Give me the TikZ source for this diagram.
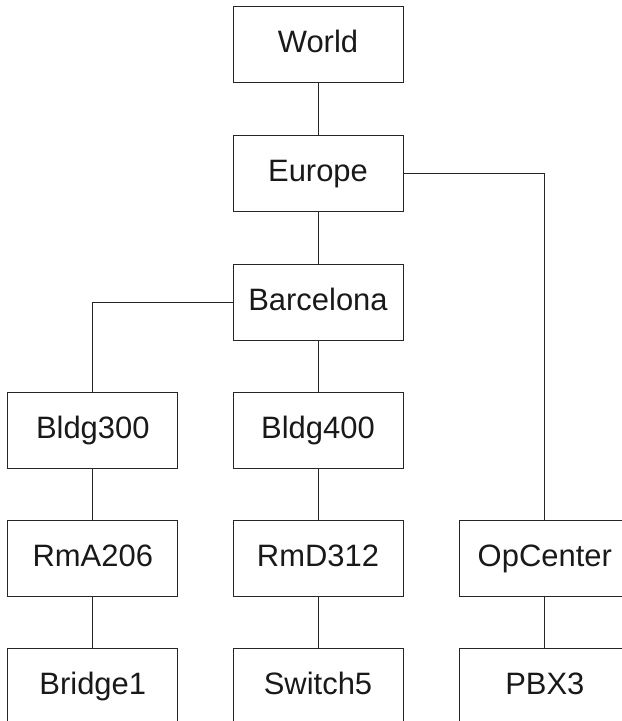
\documentclass[tikz,border=0pt]{standalone}
\usepackage{fontspec}
\setmainfont{Liberation Sans}
\tikzset{
  box/.style={draw=black!85,line width=0.6pt,minimum width=4.25cm,minimum height=1.89cm,inner sep=0pt,text height=0.55cm,text depth=0.14cm},
  link/.style={draw=black!85,line width=0.6pt}
}
\begin{document}
\begin{tikzpicture}[x=0.025cm,y=-0.025cm,every node/.style={font=\fontsize{22}{26}\selectfont,text=black!90}]
\useasboundingbox (0,0) rectangle (621,721);
% tree of locations
\foreach \n/\t/\x/\y in {world/World/318/44.5,europe/Europe/318/173.5,barcelona/Barcelona/318/302.5,
  bldga/Bldg300/92.8/430.2,bldgb/Bldg400/318/430.2,
  rma/RmA206/92.8/558.2,rmd/RmD312/318/558.2,opcenter/OpCenter/544.8/558.2,
  bridge/Bridge1/92.8/686,switch/Switch5/318/686,pbx/PBX3/544.8/686}
  \node[box] (\n) at (\x,\y) {\t};
% connectors
\draw[link] (world)--(europe);
\draw[link] (europe)--(barcelona);
\draw[link] (europe.east) -| (opcenter.north);
\draw[link] (barcelona.west) -| (bldga.north);
\draw[link] (barcelona)--(bldgb);
\foreach \a/\b in {bldga/rma,rma/bridge,bldgb/rmd,rmd/switch,opcenter/pbx} \draw[link] (\a)--(\b);
\end{tikzpicture}
\end{document}
